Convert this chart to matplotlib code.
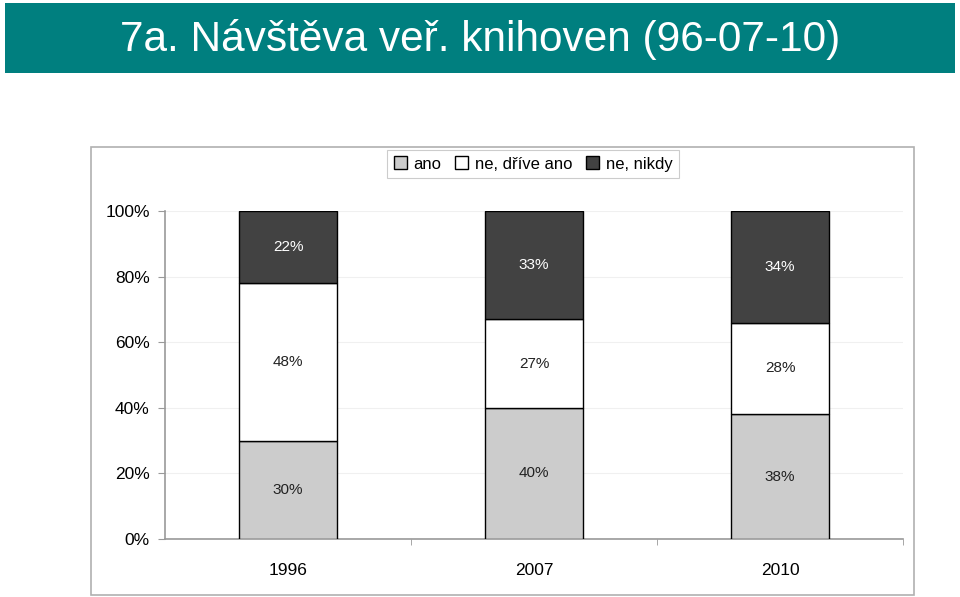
import matplotlib
matplotlib.use('Agg')
import matplotlib.pyplot as plt
from matplotlib.patches import Rectangle

# Data
years = ['1996', '2007', '2010']
ano = [30, 40, 38]
ne_drive = [48, 27, 28]
ne_nikdy = [22, 33, 34]
series_names = ['ano', 'ne, dříve ano', 'ne, nikdy']
colors = ['#cccccc', '#ffffff', '#424242']
label_colors = ['#222222', '#222222', '#ffffff']

plt.rcParams['font.family'] = ['Liberation Sans', 'DejaVu Sans']

fig = plt.figure(figsize=(9.6, 5.97), dpi=100)

# Title band
fig.patches.append(Rectangle((5 / 960, 1 - 73 / 597), 950 / 960, 70 / 597,
                             transform=fig.transFigure, facecolor='#007f7f',
                             edgecolor='none', zorder=0))
fig.text(480 / 960, 1 - 39 / 597, '7a. Návštěva veř. knihoven (96-07-10)',
         ha='center', va='center', color='white', fontsize=30.5,
         family=['Liberation Sans Narrow', 'Liberation Sans', 'DejaVu Sans'])

# Chart frame
fig.patches.append(Rectangle((91 / 960, 1 - 595 / 597), 823 / 960, 448 / 597,
                             transform=fig.transFigure, facecolor='none',
                             edgecolor='#b0b0b0', linewidth=1.2, zorder=0))

ax = fig.add_axes([165 / 960, 1 - 539 / 597, 738 / 960, 328 / 597])

x = list(range(len(years)))
bottoms = [0] * len(years)
for vals, name, col, lcol in zip([ano, ne_drive, ne_nikdy], series_names,
                                 colors, label_colors):
    ax.bar(x, vals, width=0.4, bottom=bottoms, color=col,
           edgecolor='black', linewidth=1, label=name, zorder=3)
    for xi, b, v in zip(x, bottoms, vals):
        ax.text(xi, b + v / 2, f'{v}%', ha='center', va='center',
                fontsize=11, color=lcol, zorder=4)
    bottoms = [b + v for b, v in zip(bottoms, vals)]

ax.set_xlim(-0.5, len(years) - 0.5)
ax.set_ylim(0, 100)
ax.set_yticks([0, 20, 40, 60, 80, 100])
ax.set_yticklabels([f'{t}%' for t in [0, 20, 40, 60, 80, 100]], fontsize=12.5)
ax.set_xticks(x)
ax.set_xticklabels(years, fontsize=12.5)
ax.set_xticks([0.5, 1.5, 2.5], minor=True)
ax.tick_params(axis='x', which='major', length=0, pad=17)
ax.tick_params(axis='x', which='minor', length=4, color='#999999')
ax.tick_params(axis='y', length=5, color='#999999', pad=6)
ax.grid(axis='y', color='#f0f0f0', linewidth=0.8, zorder=0)
ax.set_axisbelow(True)
for s in ['top', 'right']:
    ax.spines[s].set_visible(False)
for s in ['left', 'bottom']:
    ax.spines[s].set_color('#999999')
    ax.spines[s].set_linewidth(1.2)

leg = fig.legend(loc='center', bbox_to_anchor=(533 / 960, 1 - 164 / 597),
                 ncol=3, fontsize=12, frameon=True, fancybox=False,
                 edgecolor='#c0c0c0', handlelength=0.8, handleheight=0.8,
                 handletextpad=0.4, columnspacing=0.8, borderpad=0.4)
leg.get_frame().set_linewidth(0.8)

fig.savefig('out.png', dpi=100)
